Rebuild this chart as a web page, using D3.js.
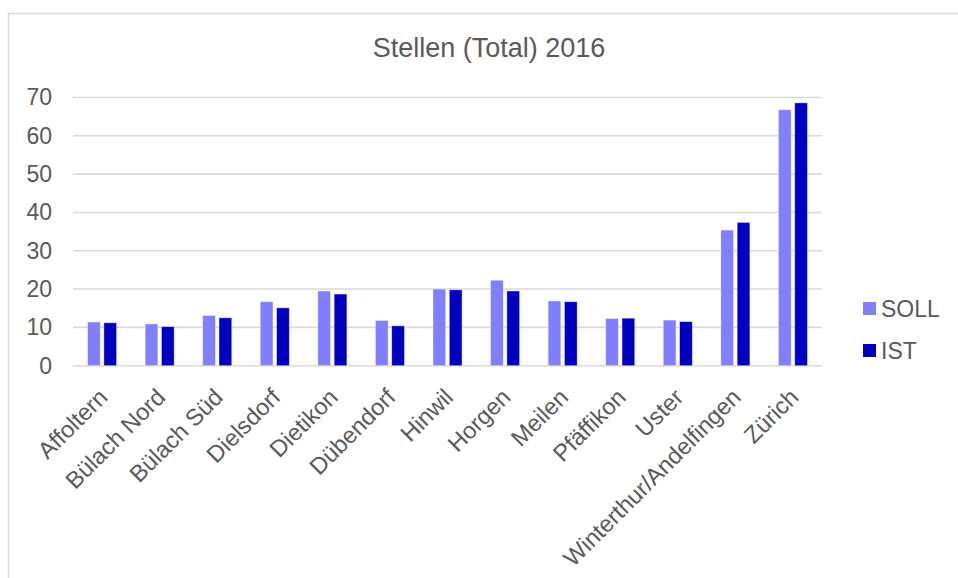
<!DOCTYPE html>
<html>
<head>
<meta charset="utf-8">
<script src="https://cdn.jsdelivr.net/npm/d3@7"></script>
<style>
    body { margin: 0; background: #fff; }
    text { font-family: "Liberation Sans", Arial, sans-serif; fill: #595959; }
</style>
</head>
<body>
<svg id="chart" width="958" height="578"></svg>
<script>
const categories = ["Affoltern", "Bülach Nord", "Bülach Süd", "Dielsdorf", "Dietikon", "Dübendorf",
    "Hinwil", "Horgen", "Meilen", "Pfäffikon", "Uster", "Winterthur/Andelfingen", "Zürich"];
const series = ["SOLL", "IST"];
const soll = [11.4, 10.9, 13.1, 16.7, 19.5, 11.8, 20.0, 22.3, 16.9, 12.3, 11.9, 35.4, 66.8];
const ist = [11.2, 10.2, 12.5, 15.1, 18.7, 10.4, 19.8, 19.5, 16.7, 12.4, 11.5, 37.4, 68.6];
const yTicks = [0, 10, 20, 30, 40, 50, 60, 70];
const colors = { SOLL: "#8080ff", IST: "#0000c0" };

const svg = d3.select("#chart");

// outer frame
svg.append("path")
    .attr("d", "M 8.5 578 L 8.5 13.5 L 958 13.5")
    .style("fill", "none")
    .style("stroke", "#d9d9d9")
    .style("stroke-width", 1.5);

const plotLeft = 73, plotRight = 822, plotTop = 97.5, plotBottom = 365.7;

const y = d3.scaleLinear().domain([0, 70]).range([plotBottom, plotTop]);
const x0 = d3.scaleBand().domain(categories).range([plotLeft, plotRight])
    .paddingInner(0.495).paddingOuter(0.2525);
const x1 = d3.scaleBand().domain(series).range([0, x0.bandwidth()]).paddingInner(0.22);

// title
svg.append("text")
    .attr("x", 489)
    .attr("y", 57)
    .attr("text-anchor", "middle")
    .style("font-size", "27px")
    .text("Stellen (Total) 2016");

// gridlines
svg.append("g")
    .selectAll("line")
    .data(yTicks)
    .join("line")
        .attr("x1", plotLeft)
        .attr("x2", plotRight)
        .attr("y1", d => y(d))
        .attr("y2", d => y(d))
        .style("stroke", "#d9d9d9")
        .style("stroke-width", 1.6);

// y axis labels
const yAxis = svg.append("g")
    .attr("transform", "translate(" + (plotLeft - 21) + ",0)")
    .call(d3.axisLeft(y).tickValues(yTicks).tickSize(0).tickPadding(0));
yAxis.select(".domain").remove();
yAxis.selectAll("text")
    .style("font-size", "23px")
    .style("font-family", "'Liberation Sans', Arial, sans-serif")
    .attr("fill", "#595959");

// bars
const rows = categories.map((c, i) => ({ cat: c, SOLL: soll[i], IST: ist[i] }));
svg.append("g")
    .selectAll("g")
    .data(rows)
    .join("g")
        .attr("transform", d => "translate(" + x0(d.cat) + ",0)")
    .selectAll("rect")
    .data(d => series.map(s => ({ key: s, value: d[s] })))
    .join("rect")
        .attr("x", d => x1(d.key))
        .attr("y", d => y(d.value))
        .attr("width", x1.bandwidth())
        .attr("height", d => y(0) - y(d.value))
        .style("fill", d => colors[d.key])
        .style("stroke", "#ffffff")
        .style("stroke-opacity", 0.5)
        .style("stroke-width", 0.8);

// x axis labels, rotated
const xAxis = svg.append("g")
    .attr("transform", "translate(0," + plotBottom + ")")
    .call(d3.axisBottom(x0).tickSize(0).tickPadding(0));
xAxis.select(".domain").remove();
xAxis.selectAll("text")
    .style("font-size", "23.5px")
    .style("font-family", "'Liberation Sans', Arial, sans-serif")
    .attr("fill", "#595959")
    .attr("text-anchor", "end")
    .attr("dy", 0)
    .attr("y", 0)
    .attr("transform", "translate(7,33) rotate(-45)");

// legend
const legend = svg.append("g")
    .selectAll("g")
    .data(series)
    .join("g")
        .attr("transform", (d, i) => "translate(863," + (302 + i * 42) + ")");
legend.append("rect")
    .attr("width", 13)
    .attr("height", 13)
    .style("fill", d => colors[d]);
legend.append("text")
    .attr("x", 18)
    .attr("y", 6.5)
    .attr("dy", "0.36em")
    .style("font-size", "23px")
    .text(d => d);
</script>
</body>
</html>
